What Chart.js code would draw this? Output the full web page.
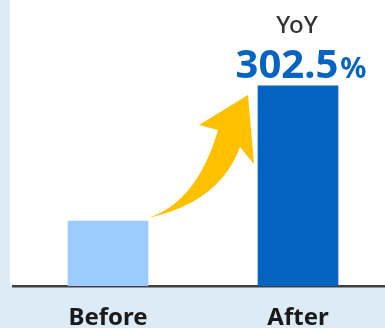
<!DOCTYPE html>
<html>
<head>
<meta charset="utf-8">
<script src="https://cdn.jsdelivr.net/npm/chart.js@4.4.1/dist/chart.umd.min.js"></script>
<style>
  html, body { margin: 0; padding: 0; background: #DDEBF7; overflow: hidden; }
  #wrap { width: 400px; height: 328px; }
</style>
</head>
<body>
<div id="wrap"><canvas id="c" width="400" height="328"></canvas></div>
<script>
// data
const categories = ['Before', 'After']
const values = [100, 308]
const barColors = ['#9CCBFF', '#0563C1']
const yoyLabel = 'YoY'
const yoyValue = '302.5'
const yoyUnit = '%'

// white plot panel behind the bars
const panelPlugin = {
  id: 'panel',
  beforeDraw(chart) {
    const { ctx, chartArea } = chart
    ctx.save()
    ctx.fillStyle = '#FFFFFF'
    ctx.fillRect(chartArea.left - 3, 0, chart.width, chartArea.bottom)
    ctx.restore()
  }
}

// yellow curved arrow + YoY callout, anchored to the bars
const calloutPlugin = {
  id: 'callout',
  afterDatasetsDraw(chart) {
    const { ctx } = chart
    const bars = chart.getDatasetMeta(0).data
    const b0 = bars[0], b1 = bars[1]
    const x0 = b0.x + b0.width / 2, y0 = b0.y - 3   // tail
    const p = (dx, dy) => [x0 + dx, y0 + dy]

    ctx.save()
    ctx.fillStyle = '#FFC000'
    ctx.beginPath()
    ctx.moveTo(...p(0, 0))
    ctx.quadraticCurveTo(...p(72, -16), ...p(92, -71))   // lower edge
    ctx.lineTo(...p(106, -54))                           // right barb
    ctx.lineTo(...p(100, -123))                          // tip
    ctx.lineTo(...p(51, -93))                            // left barb
    ctx.lineTo(...p(70, -88))
    ctx.quadraticCurveTo(...p(49, -16), ...p(0, 0))      // upper edge
    ctx.closePath()
    ctx.fill()

    const cx = b1.x
    ctx.textBaseline = 'alphabetic'
    ctx.textAlign = 'center'
    ctx.fillStyle = '#333333'
    ctx.font = '500 24px "Noto Sans"'
    ctx.fillText(yoyLabel, cx - 1, 33)

    ctx.fillStyle = '#0563C1'
    ctx.font = 'bold 40px "Noto Sans"'
    const w1 = ctx.measureText(yoyValue).width
    ctx.font = 'bold 29px "Noto Sans"'
    const w2 = ctx.measureText(yoyUnit).width
    const start = cx + 3 - (w1 + w2 + 2) / 2
    ctx.textAlign = 'left'
    ctx.font = 'bold 40px "Noto Sans"'
    ctx.fillText(yoyValue, start, 78)
    ctx.font = 'bold 29px "Noto Sans"'
    ctx.fillText(yoyUnit, start + w1 + 2, 78)
    ctx.restore()
  }
}

new Chart(document.getElementById('c').getContext('2d'), {
  type: 'bar',
  data: {
    labels: categories,
    datasets: [{
      data: values,
      backgroundColor: barColors,
      barThickness: 80
    }]
  },
  options: {
    responsive: false,
    animation: false,
    layout: { padding: { left: 13, right: 7, top: 0, bottom: 0 } },
    plugins: {
      legend: { display: false },
      tooltip: { enabled: false }
    },
    scales: {
      x: {
        z: 1,
        grid: { display: false },
        border: { display: true, color: '#404040', width: 2.5 },
        ticks: {
          color: '#1A1A1A',
          padding: 10,
          font: { family: 'Noto Sans', size: 24, weight: 'bold' }
        },
        afterFit(scale) { scale.height = 42 }
      },
      y: {
        display: false,
        min: 0,
        max: 440
      }
    }
  },
  plugins: [panelPlugin, calloutPlugin]
})
</script>
</body>
</html>
